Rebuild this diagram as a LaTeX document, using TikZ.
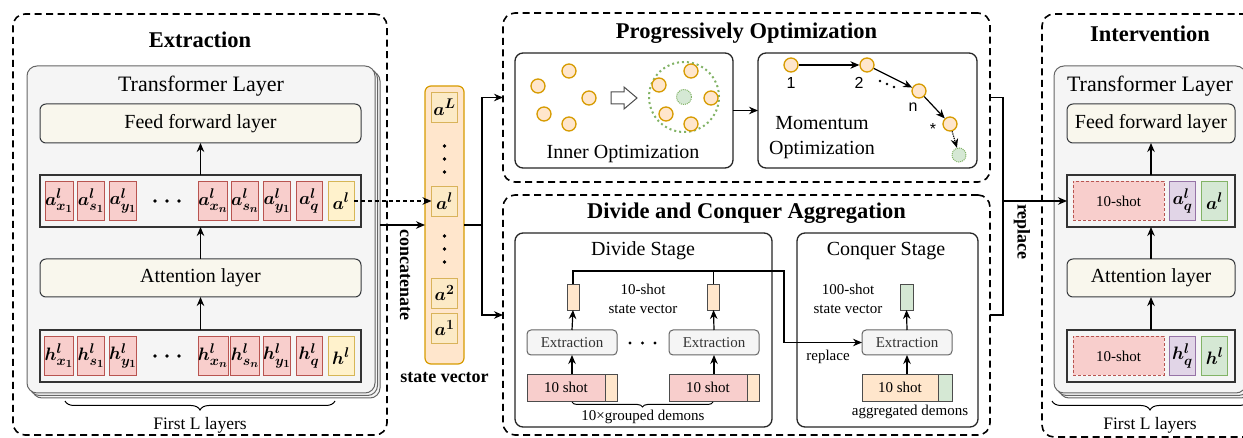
\RequirePackage{fix-cm}
\documentclass[tikz,border=0pt]{standalone}
\usepackage{fontspec}
\setmainfont{Liberation Serif}
\newfontfamily\arialf{Liberation Sans}
\usetikzlibrary{arrows.meta,decorations.pathreplacing,calc}
\DeclareMathSizes{18}{18}{14}{11}
\newcommand\fsz[2]{\fontsize{#1}{#2}\selectfont}
\definecolor{pinkF}{HTML}{F8CECC}\definecolor{pinkD}{HTML}{B85450}
\definecolor{yelF}{HTML}{FFF2CC}\definecolor{yelD}{HTML}{D6B656}
\definecolor{orF}{HTML}{FFE6CC}\definecolor{orD}{HTML}{D79B00}
\definecolor{grF}{HTML}{D5E8D4}\definecolor{grD}{HTML}{82B366}
\definecolor{puF}{HTML}{E1D5E7}\definecolor{puD}{HTML}{9673A6}
\definecolor{gyF}{HTML}{F5F5F5}\definecolor{gyD}{HTML}{666666}
\definecolor{crF}{HTML}{F9F7ED}\definecolor{crD}{HTML}{36393D}
\definecolor{svcF}{HTML}{FCEAC6}\definecolor{svcD}{HTML}{D9B35A}
\begin{document}
\begin{tikzpicture}[x=1pt,y=-1pt,
  bx/.style={inner sep=0pt,outer sep=0pt},
  panel/.style={bx,draw=black,line width=1.6pt,dash pattern=on 7pt off 4.5pt,rounded corners=12pt},
  tlayer/.style={bx,draw=gyD,fill=gyF,line width=1pt,rounded corners=10pt},
  lyr/.style={bx,draw=crD,fill=crF,line width=1pt,rounded corners=6pt,font=\fsz{20}{24}},
  rowbox/.style={bx,draw=black!80,fill=gyF,line width=1.4pt},
  cellb/.style={bx,line width=0.9pt,minimum width=26pt,minimum height=39pt,font=\fsz{18}{20}\boldmath},
  pcell/.style={cellb,draw=pinkD,fill=pinkF},
  ycell/.style={cellb,draw=yelD,fill=yelF},
  gcell/.style={cellb,draw=grD,fill=grF},
  ucell/.style={cellb,draw=puD,fill=puF},
  svc/.style={bx,draw=svcD,fill=svcF,line width=0.9pt,minimum width=26pt,minimum height=30pt,font=\fsz{18}{20}\boldmath},
  ttl/.style={font=\bfseries\fsz{22.5}{26}},
  lbl/.style={font=\fsz{20}{25},align=center},
  sm/.style={font=\fsz{15}{19},align=center},
  bld/.style={font=\bfseries\fsz{18}{20}},
  stage/.style={bx,draw=black!85,line width=1.3pt,rounded corners=8pt,fill=white},
  extbox/.style={bx,draw=gyD,fill=gyF,line width=1pt,rounded corners=4pt,minimum width=90pt,minimum height=25pt,text=black!80,font=\fsz{15}{17}},
  oc/.style={circle,draw=orD,fill=orF,line width=1.3pt,minimum size=14pt,inner sep=0pt},
  arr/.style={-{Stealth[length=9pt,width=7.5pt]},line width=1.2pt},
  ln/.style={line width=1.2pt},
  brc/.style={line width=1pt,decorate},
  sl/.style={font=\arialf\fsz{16}{18}}
]
\clip (0,0) rectangle (1243,438);

% ================= Extraction =================
\node[panel,minimum width=374pt,minimum height=421pt] (extp) at (200,224.5) {};
\node[ttl] (extt) at (200,40) {Extraction};
\node[tlayer,minimum width=348pt,minimum height=327pt] (tl2) at (206,234.5) {};
\node[tlayer,minimum width=348pt,minimum height=327pt] (tl1) at (203.5,232) {};
\node[tlayer,minimum width=348pt,minimum height=327pt] (tl) at (201,229.5) {};
\node[font=\fsz{22}{26}] (tlt) at (201,86) {Transformer Layer};
\node[lyr,minimum width=321pt,minimum height=39pt] (ffl) at (200.5,123.5) {Feed forward layer};
\node[rowbox,minimum width=321pt,minimum height=52pt] (rowa) at (200.5,201) {};
\node[lyr,minimum width=321pt,minimum height=38pt] (att) at (200.5,278) {Attention layer};
\node[rowbox,minimum width=321pt,minimum height=52pt] (rowh) at (200.5,356) {};
\node[pcell] (ca1) at (59,201) {$a^l_{x_1}$};
\node[pcell] (ca2) at (91,201) {$a^l_{s_1}$};
\node[pcell] (ca3) at (123,201) {$a^l_{y_1}$};
\node[pcell] (ca4) at (213,201) {$a^l_{x_n}$};
\node[pcell] (ca5) at (245,201) {$a^l_{s_n}$};
\node[pcell] (ca6) at (277,201) {$a^l_{y_1}$};
\node[pcell] (ca7) at (309,201) {$a^l_{q}$};
\node[ycell] (cal) at (341,201) {$a^l$};
\node[pcell] (ch1) at (59,356) {$h^l_{x_1}$};
\node[pcell] (ch2) at (91,356) {$h^l_{s_1}$};
\node[pcell] (ch3) at (123,356) {$h^l_{y_1}$};
\node[pcell] (ch4) at (213,356) {$h^l_{x_n}$};
\node[pcell] (ch5) at (245,356) {$h^l_{s_n}$};
\node[pcell] (ch6) at (277,356) {$h^l_{y_1}$};
\node[pcell] (ch7) at (309,356) {$h^l_{q}$};
\node[ycell] (chl) at (341,356) {$h^l$};
\foreach \x in {155,167,179} {\fill (\x,201) circle (1.8); \fill (\x,356) circle (1.8);}
\draw[arr] (rowa.north) -- (ffl.south);
\draw[arr] (att.north) -- (rowa.south);
\draw[arr] (rowh.north) -- (att.south);
\draw[brc,decoration={brace,mirror,amplitude=9pt}] (65,401) -- (335,401);
\node[font=\fsz{17.5}{20}] (fl1) at (200,425) {First L layers};

% ================= State vector =================
\node[bx,draw=orD,fill=orF,line width=1.2pt,rounded corners=6pt,minimum width=39pt,minimum height=278pt] (svbox) at (444.5,225) {};
\node[svc] (svL) at (444.5,107) {$a^L$};
\node[svc] (svl) at (444.5,201) {$a^l$};
\node[svc] (sv2) at (444.5,293) {$a^2$};
\node[svc] (sv1) at (444.5,328) {$a^1$};
\foreach \y in {146,159,172,236,249,262} \fill (444.5,\y) circle (1.8);
\node[bld] (svlab) at (444.5,378) {state vector};
\draw[arr,dash pattern=on 4pt off 3pt] (cal.east) -- (svl.west);
\draw[arr] (tl2.east |- svbox.west) -- (svbox.west);
\node[bld,rotate=-90] (concat) at (405,275) {concatenate};

% ================= Progressively Optimization =================
\node[panel,minimum width=487pt,minimum height=169pt] (pop) at (746.5,97.5) {};
\node[ttl] (popt) at (746.5,33) {Progressively Optimization};
\node[stage,minimum width=218pt,minimum height=115pt] (inner) at (624,110.5) {};
\node[lbl] (innert) at (623,154) {Inner Optimization};
\node[oc] (o1) at (538,86) {};
\node[oc] (o2) at (569,71) {};
\node[oc] (o3) at (589,98) {};
\node[oc] (o4) at (544,114) {};
\node[oc] (o5) at (569,124) {};
\draw[line width=1pt,draw=black!70,fill=white] (611,92) -- (624,92) -- (624,87) -- (637,98) -- (624,109) -- (624,104) -- (611,104) -- cycle;
\node[circle,draw=grD,line width=2pt,dash pattern=on 2pt off 3pt,minimum size=70pt,inner sep=0pt] (gbig) at (684,97) {};
\node[circle,draw=grD,fill=grF,densely dotted,line width=1pt,minimum size=15pt,inner sep=0pt] (gsm) at (684,97) {};
\node[oc] (p1) at (691,71) {};
\node[oc] (p2) at (659,85) {};
\node[oc] (p3) at (711,98) {};
\node[oc] (p4) at (666,114) {};
\node[oc] (p5) at (691,124) {};
\node[stage,minimum width=219pt,minimum height=115pt] (mom) at (867.5,110.5) {};
\draw[arr] (inner.east) -- (mom.west);
\node[oc] (m1) at (791,65) {};
\node[oc] (m2) at (867,65) {};
\node[oc] (mn) at (919,91) {};
\node[oc] (ms) at (950,124) {};
\node[circle,draw=grD,fill=grF,densely dotted,line width=1pt,minimum size=14pt,inner sep=0pt] (mg) at (959,155) {};
\draw[arr] (m1) -- (m2);
\draw[arr] (m2) -- (mn);
\draw[arr] (mn) -- (ms);
\draw[arr,densely dotted] (ms) -- (mg);
\node[sl] (l1) at (791,83) {1};
\node[sl] (l2) at (859,83) {2};
\node[sl] (lnn) at (913,107) {n};
\node[sl] (lst) at (933,129) {*};
\foreach \x/\y in {880/81,887/84,894/87} \fill (\x,\y) circle (1.3);
\node[lbl] (momt) at (822,137.5) {Momentum\\Optimization};

% ================= Divide and Conquer =================
\node[panel,minimum width=487pt,minimum height=240pt] (dca) at (746.5,315) {};
\node[ttl] (dcat) at (746.5,213) {Divide and Conquer Aggregation};
\node[stage,minimum width=257pt,minimum height=194pt] (dst) at (643.5,330) {};
\node[lbl] (dstt) at (643,251) {Divide Stage};
\node[stage,minimum width=181pt,minimum height=194pt] (cst) at (887.5,330) {};
\node[lbl] (cstt) at (886,251) {Conquer Stage};
% divide
\node[bx,draw=black!70,fill=orF,line width=0.9pt,minimum width=12pt,minimum height=26pt] (dsv1) at (573,297) {};
\node[bx,draw=black!70,fill=orF,line width=0.9pt,minimum width=12pt,minimum height=26pt] (dsv2) at (713.5,297) {};
\node[sm] (dsvt) at (643,298.5) {10-shot\\state vector};
\node[extbox] (dext1) at (572,342.5) {Extraction};
\node[extbox] (dext2) at (714,342.5) {Extraction};
\foreach \x in {630,642.5,655} \fill (\x,343) circle (1.6);
\node[bx,draw=black!70,fill=pinkF,line width=0.9pt,minimum width=78pt,minimum height=27pt,font=\fsz{15}{17}] (dsh1) at (566,387.5) {10 shot};
\node[bx,draw=black!70,fill=orF,line width=0.9pt,minimum width=12pt,minimum height=27pt] (dsh1b) at (611,387.5) {};
\node[bx,draw=black!70,fill=pinkF,line width=0.9pt,minimum width=78pt,minimum height=27pt,font=\fsz{15}{17}] (dsh2) at (708,387.5) {10 shot};
\node[bx,draw=black!70,fill=orF,line width=0.9pt,minimum width=12pt,minimum height=27pt] (dsh2b) at (753,387.5) {};
\draw[arr] (dext1.south |- dsh1.north) -- (dext1.south);
\draw[arr] (dext2.south |- dsh2.north) -- (dext2.south);
\draw[arr] (dext1.north) -- (dsv1.south);
\draw[arr] (dext2.north) -- (dsv2.south);
\draw[brc,decoration={brace,mirror,amplitude=5pt}] (572,402) -- (713,402);
\node[sm] (dgrp) at (643,417) {10×grouped demons};
% conquer
\node[sm] (csvt) at (848,299) {100-shot\\state vector};
\node[bx,draw=black!70,fill=grF,line width=0.9pt,minimum width=13pt,minimum height=26pt] (csv) at (906.5,297) {};
\node[extbox] (cext) at (907,342.5) {Extraction};
\node[bx,draw=black!70,fill=orF,line width=0.9pt,minimum width=76pt,minimum height=27pt,font=\fsz{15}{17}] (csh) at (900,387.5) {10 shot};
\node[bx,draw=black!70,fill=grF,line width=0.9pt,minimum width=14pt,minimum height=27pt] (cshb) at (945,387.5) {};
\draw[arr] (cext.south |- csh.north) -- (cext.south);
\draw[arr] (cext.north) -- (csv.south);
\node[sm] (crep) at (828,357) {replace};
\node[sm] (cagg) at (910,412) {aggregated demons};
\coordinate (jt) at (784,271);
\draw[arr] (dsv1.north) |- (jt) |- (cext.west);
\draw[ln] (dsv2.north) -- (dsv2.north |- jt);

% state vector branches
\coordinate (br) at (482,225);
\draw[ln] (svbox.east) -- (br);
\draw[arr] (br) |- (pop.west);
\draw[arr] (br) |- (dca.west);

% ================= Intervention =================
\node[panel,minimum width=216pt,minimum height=423pt] (intp) at (1150,225.5) {};
\node[ttl] (intt) at (1150,34) {Intervention};
\node[tlayer,minimum width=192pt,minimum height=327pt] (rtl2) at (1155,234.5) {};
\node[tlayer,minimum width=192pt,minimum height=327pt] (rtl1) at (1152.5,232) {};
\node[tlayer,minimum width=192pt,minimum height=327pt] (rtl) at (1150,229.5) {};
\node[font=\fsz{22}{26}] (rtlt) at (1150,86) {Transformer Layer};
\node[lyr,minimum width=168pt,minimum height=39pt] (rffl) at (1151,123.5) {Feed forward layer};
\node[rowbox,minimum width=168pt,minimum height=52pt] (rrowa) at (1151,201) {};
\node[lyr,minimum width=168pt,minimum height=38pt] (ratt) at (1151,278) {Attention layer};
\node[rowbox,minimum width=168pt,minimum height=52pt] (rrowh) at (1151,356) {};
\node[bx,draw=pinkD,fill=pinkF,line width=0.9pt,dash pattern=on 3pt off 2pt,minimum width=91pt,minimum height=39pt,font=\fsz{15}{17}] (r10a) at (1118.5,201) {10-shot};
\node[ucell] (raq) at (1182.5,201) {$a^l_q$};
\node[gcell] (ral) at (1214.5,201) {$a^l$};
\node[bx,draw=pinkD,fill=pinkF,line width=0.9pt,dash pattern=on 3pt off 2pt,minimum width=91pt,minimum height=39pt,font=\fsz{15}{17}] (r10h) at (1118.5,356) {10-shot};
\node[ucell] (rhq) at (1182.5,356) {$h^l_q$};
\node[gcell] (rhl) at (1214.5,356) {$h^l$};
\draw[arr] (rrowa.north) -- (rffl.south);
\draw[arr] (ratt.north) -- (rrowa.south);
\draw[arr] (rrowh.north) -- (ratt.south);
\draw[brc,decoration={brace,mirror,amplitude=9pt}] (1052,401) -- (1248,401);
\node[font=\fsz{17.5}{20}] (fl2) at (1150,425) {First L layers};

% replace connector
\coordinate (rj) at (1003,201);
\draw[ln] (pop.east) -| (rj);
\draw[ln] (dca.east) -| (rj);
\draw[arr] (rj) -- (rrowa.west);
\node[bld,rotate=-90] (repl) at (1022,232) {replace};
\end{tikzpicture}
\end{document}
